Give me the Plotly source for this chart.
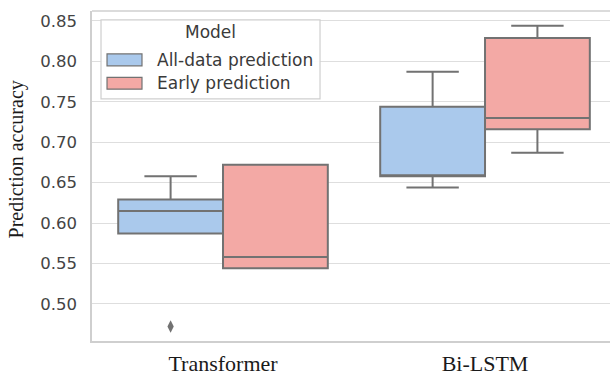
import plotly.graph_objects as go

# ---------------- data ----------------
categories = ["Transformer", "Bi-LSTM"]
series_names = ["All-data prediction", "Early prediction"]

alldata_q1 = [0.587, 0.658]
alldata_median = [0.615, 0.658]
alldata_q3 = [0.629, 0.744]
alldata_low = [0.587, 0.644]
alldata_high = [0.658, 0.787]

early_q1 = [0.544, 0.716]
early_median = [0.558, 0.730]
early_q3 = [0.672, 0.829]
early_low = [0.544, 0.687]
early_high = [0.672, 0.844]

outlier_cat = ["Transformer"]
outlier_val = [0.472]

y_ticks = [0.50, 0.55, 0.60, 0.65, 0.70, 0.75, 0.80, 0.85]

# ---------------- style ----------------
fills = ["#aac9ec", "#f3a9a5"]
line_col = "#727272"
grid_col = "#dedede"
spine_col = "#cfcfcf"
offsets = [-0.2, 0.2]
box_w = 0.4

fig = go.Figure()
stats = [
    (alldata_q1, alldata_median, alldata_q3, alldata_low, alldata_high),
    (early_q1, early_median, early_q3, early_low, early_high),
]
for s, (q1, med, q3, lo, hi) in enumerate(stats):
    xs = [i + offsets[s] for i in range(len(categories))]
    fig.add_trace(go.Box(
        x=xs, q1=q1, median=med, q3=q3, lowerfence=lo, upperfence=hi,
        name=series_names[s], width=box_w, whiskerwidth=0.5,
        fillcolor=fills[s], line=dict(color=line_col, width=2),
        boxpoints=False, showlegend=False, hoverinfo="y",
    ))

fig.add_trace(go.Scatter(
    x=[categories.index(c) + offsets[0] for c in outlier_cat], y=outlier_val,
    mode="markers", marker=dict(symbol="diamond-tall", size=9, color=line_col),
    showlegend=False, hoverinfo="y",
))

# ---------------- manual legend (seaborn style) ----------------
shapes = [
    # top spine
    dict(type="line", xref="paper", yref="paper", x0=0, x1=1, y0=1, y1=1,
         line=dict(color=spine_col, width=1.5), layer="above"),
    # legend frame
    dict(type="rect", xref="paper", yref="paper", x0=0.0174, x1=0.4402, y0=0.734, y1=0.973,
         line=dict(color=spine_col, width=1.2), fillcolor="rgba(255,255,255,0.92)", layer="above"),
]
sw_y = [(0.834, 0.870), (0.763, 0.799)]
txt_y = [0.852, 0.781]
annotations = [
    dict(text="Model", xref="paper", yref="paper", x=0.2278, y=0.935, showarrow=False,
         xanchor="center", yanchor="middle", font=dict(family="DejaVu Sans", size=17, color="#3a3a3a")),
]
for s in range(2):
    shapes.append(dict(type="rect", xref="paper", yref="paper", x0=0.029, x1=0.0965,
                       y0=sw_y[s][0], y1=sw_y[s][1], fillcolor=fills[s],
                       line=dict(color=line_col, width=1.2), layer="above"))
    annotations.append(dict(text=series_names[s], xref="paper", yref="paper", x=0.1216, y=txt_y[s],
                            showarrow=False, xanchor="left", yanchor="middle",
                            font=dict(family="DejaVu Sans", size=17, color="#3a3a3a")))

annotations.append(dict(text="Prediction accuracy", xref="paper", yref="paper", x=-0.1448, y=0.55,
                        textangle=-90, showarrow=False, xanchor="center", yanchor="middle",
                        font=dict(family="Liberation Serif", size=20, color="#1a1a1a")))

fig.update_layout(
    width=610, height=376,
    margin=dict(l=92, r=0, t=11, b=27),
    paper_bgcolor="white", plot_bgcolor="white",
    shapes=shapes, annotations=annotations,
    showlegend=False,
    xaxis=dict(
        range=[-0.5, 1.477], tickmode="array", tickvals=list(range(len(categories))),
        ticktext=categories, showgrid=False, zeroline=False,
        showline=True, linecolor=spine_col, linewidth=1.5,
        ticks="outside", ticklen=2, tickcolor="rgba(0,0,0,0)",
        tickfont=dict(family="Liberation Serif", size=22, color="#1a1a1a"),
    ),
    yaxis=dict(
        range=[0.4541, 0.8623], tickmode="array", tickvals=y_ticks,
        ticktext=[f"{v:.2f}" for v in y_ticks],
        showgrid=True, gridcolor=grid_col, gridwidth=1.2, zeroline=False,
        showline=True, linecolor=spine_col, linewidth=1.5,
        ticks="outside", ticklen=10, tickcolor="rgba(0,0,0,0)",
        tickfont=dict(family="DejaVu Sans", size=16.5, color="#444444"),
    ),
)

fig.write_html("out.html")
